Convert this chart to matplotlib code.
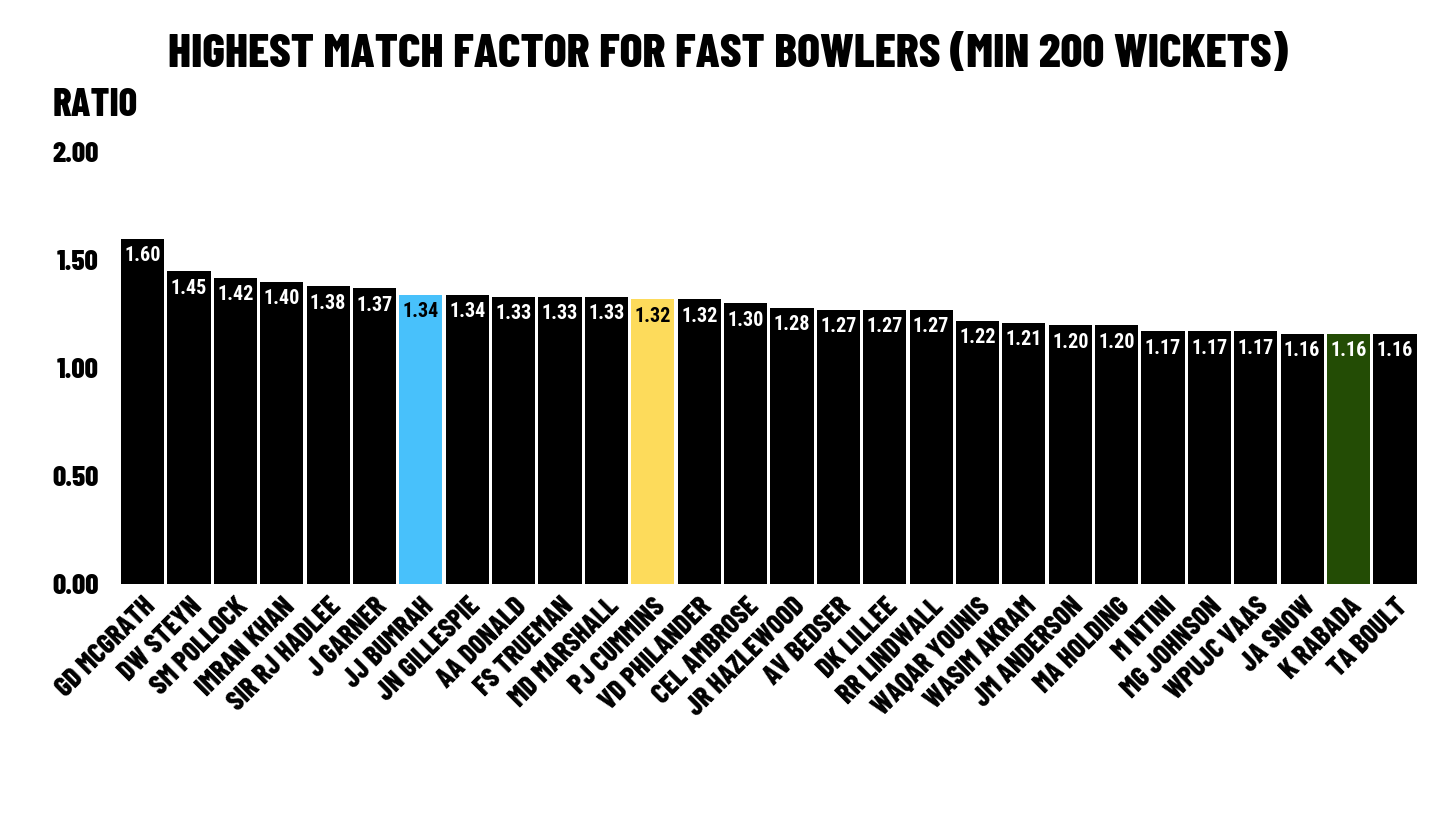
import matplotlib
matplotlib.use("Agg")
import matplotlib.pyplot as plt
import numpy as np

# bowlers and their match factor ratio
bowlers = ['GD MCGRATH', 'DW STEYN', 'SM POLLOCK', 'IMRAN KHAN', 'SIR RJ HADLEE',
           'J GARNER', 'JJ BUMRAH', 'JN GILLESPIE', 'AA DONALD', 'FS TRUEMAN',
           'MD MARSHALL', 'PJ CUMMINS', 'VD PHILANDER', 'CEL AMBROSE', 'JR HAZLEWOOD',
           'AV BEDSER', 'DK LILLEE', 'RR LINDWALL', 'WAQAR YOUNIS', 'WASIM AKRAM',
           'JM ANDERSON', 'MA HOLDING', 'M NTINI', 'MG JOHNSON', 'WPUJC VAAS',
           'JA SNOW', 'K RABADA', 'TA BOULT']
ratio = [1.60, 1.45, 1.42, 1.40, 1.38, 1.37, 1.34, 1.34, 1.33, 1.33,
         1.33, 1.32, 1.32, 1.30, 1.28, 1.27, 1.27, 1.27, 1.22, 1.21,
         1.20, 1.20, 1.17, 1.17, 1.17, 1.16, 1.16, 1.16]
highlight = {'JJ BUMRAH': '#48C1FB', 'PJ CUMMINS': '#FDDB5B', 'K RABADA': '#234C05'}
dark_text = ['JJ BUMRAH', 'PJ CUMMINS']

heavy = ['Barlow Condensed', 'DejaVu Sans']
label_font = ['Roboto Condensed', 'DejaVu Sans']

fig = plt.figure(figsize=(14.56, 8.19), dpi=100)
ax = fig.add_axes([0.082, 0.287, 0.892, 0.527])

x = np.arange(len(bowlers))
colors = [highlight.get(b, '#000000') for b in bowlers]
ax.bar(x, ratio, width=0.93, color=colors)

for i, b in enumerate(bowlers):
    tc = '#000000' if b in dark_text else 'white'
    ax.text(x[i], ratio[i] - 0.035, f'{ratio[i]:.2f}', ha='center', va='top',
            color=tc, fontsize=14.5, fontweight=700, family=label_font)

ax.set_xlim(-0.5, len(bowlers) - 0.5)
ax.set_ylim(0, 2.0)
ax.set_yticks([0, 0.5, 1.0, 1.5, 2.0])
ax.set_yticklabels(['0.00', '0.50', '1.00', '1.50', '2.00'], fontsize=21,
                   fontweight=800, family=heavy)
ax.set_xticks(x)
ax.set_xticklabels(bowlers, rotation=45, ha='right', rotation_mode='anchor',
                   fontsize=20, fontweight=800, family=heavy)
ax.tick_params(axis='both', length=0)
ax.tick_params(axis='x', pad=7)
ax.tick_params(axis='y', pad=15)
for s in ax.spines.values():
    s.set_visible(False)

fig.text(0.5, 0.933, 'HIGHEST MATCH FACTOR FOR FAST BOWLERS (MIN 200 WICKETS)',
         ha='center', va='center', fontsize=34.5, fontweight=800, family=heavy)
fig.text(0.036, 0.871, 'RATIO', ha='left', va='center', fontsize=28,
         fontweight=800, family=heavy)

fig.savefig('out.png', dpi=100, facecolor='white')
